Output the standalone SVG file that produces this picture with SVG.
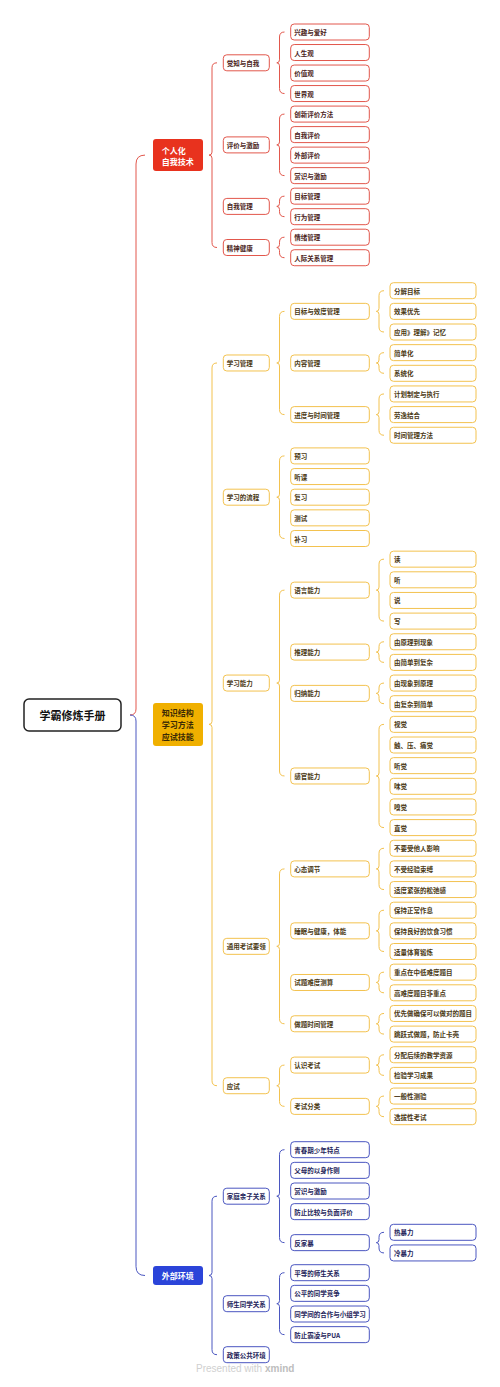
<svg xmlns="http://www.w3.org/2000/svg" width="500" height="1387" viewBox="0 0 500 1387">
<style>
text{font-family:"Noto Sans CJK SC","Noto Sans",sans-serif;}
.t{font-size:6.5px;font-weight:bold;dominant-baseline:central;}
.h{font-size:8px;font-weight:bold;fill:#fff;dominant-baseline:central;}
.rn{fill:#fff;stroke:#E2574C;stroke-width:1;}
.yn{fill:#fff;stroke:#F3C24F;stroke-width:1;}
.bn{fill:#fff;stroke:#4A56C0;stroke-width:1;}
.rt{fill:#4a2320;}
.yt{fill:#4a3812;}
.bt{fill:#1e245a;}
.rc{fill:none;stroke:#E2574C;stroke-width:1;}
.yc{fill:none;stroke:#F3C24F;stroke-width:1;}
.bc{fill:none;stroke:#4A56C0;stroke-width:1;}
</style>
<rect width="500" height="1387" fill="#fff"/>
<g id="connectors">
<path class="rc" stroke-width="1.4" d="M145,155.1 Q136,155.1 136,164 V709 Q136,715 130,715"/>
<path class="bc" stroke-width="1.4" d="M130,715 Q136,715 136,721 V1266.5 Q136,1275.5 145,1275.5"/>
<!-- red -->
<path class="rc" d="M217,62.8 Q212,62.8 212,67.8 V152.1 Q212,155.1 209,155.1 Q212,155.1 212,158.1 V242.5 Q212,247.5 217,247.5"/>
<path class="rc" d="M284.5,32 Q279.5,32 279.5,37 V59.8 Q279.5,62.8 276.8,62.8 Q279.5,62.8 279.5,65.8 V88.56 Q279.5,93.56 284.5,93.56"/>
<path class="rc" d="M284.5,114.08 Q279.5,114.08 279.5,119.08 V141.9 Q279.5,144.9 276.8,144.9 Q279.5,144.9 279.5,147.9 V170.64 Q279.5,175.64 284.5,175.64"/>
<path class="rc" d="M284.5,196.16 Q279.5,196.16 279.5,201.16 V203.4 Q279.5,206.4 276.8,206.4 Q279.5,206.4 279.5,209.4 V211.68 Q279.5,216.68 284.5,216.68"/>
<path class="rc" d="M284.5,237.2 Q279.5,237.2 279.5,242.2 V244.5 Q279.5,247.5 276.8,247.5 Q279.5,247.5 279.5,250.5 V252.72 Q279.5,257.72 284.5,257.72"/>
<!-- yellow -->
<path class="yc" d="M217,362.98 Q212,362.98 212,367.98 V721.36 Q212,724.36 209,724.36 Q212,724.36 212,727.36 V1080.73 Q212,1085.73 217,1085.73"/>
<path class="yc" d="M284.5,311.35 Q279.5,311.35 279.5,316.35 V359.98 Q279.5,362.98 276.8,362.98 Q279.5,362.98 279.5,365.98 V409.6 Q279.5,414.6 284.5,414.6"/>
<path class="yc" d="M284.5,455.9 Q279.5,455.9 279.5,460.9 V494.2 Q279.5,497.2 276.8,497.2 Q279.5,497.2 279.5,500.2 V533.5 Q279.5,538.5 284.5,538.5"/>
<path class="yc" d="M284.5,590.13 Q279.5,590.13 279.5,595.13 V680.05 Q279.5,683.05 276.8,683.05 Q279.5,683.05 279.5,686.05 V770.98 Q279.5,775.98 284.5,775.98"/>
<path class="yc" d="M284.5,868.9 Q279.5,868.9 279.5,873.9 V943.34 Q279.5,946.34 276.8,946.34 Q279.5,946.34 279.5,949.34 V1018.78 Q279.5,1023.78 284.5,1023.78"/>
<path class="yc" d="M284.5,1065.08 Q279.5,1065.08 279.5,1070.08 V1082.73 Q279.5,1085.73 276.8,1085.73 Q279.5,1085.73 279.5,1088.73 V1101.38 Q279.5,1106.38 284.5,1106.38"/>
<path class="yc" d="M384,290.7 Q379,290.7 379,295.7 V308.35 Q379,311.35 376.3,311.35 Q379,311.35 379,314.35 V327 Q379,332 384,332"/>
<path class="yc" d="M384,352.65 Q379,352.65 379,357.65 V359.98 Q379,362.98 376.3,362.98 Q379,362.98 379,365.98 V368.3 Q379,373.3 384,373.3"/>
<path class="yc" d="M384,393.95 Q379,393.95 379,398.95 V411.6 Q379,414.6 376.3,414.6 Q379,414.6 379,417.6 V430.25 Q379,435.25 384,435.25"/>
<path class="yc" d="M384,559.15 Q379,559.15 379,564.15 V587.13 Q379,590.13 376.3,590.13 Q379,590.13 379,593.13 V616.1 Q379,621.1 384,621.1"/>
<path class="yc" d="M384,641.75 Q379,641.75 379,646.75 V649.08 Q379,652.08 376.3,652.08 Q379,652.08 379,655.08 V657.4 Q379,662.4 384,662.4"/>
<path class="yc" d="M384,683.05 Q379,683.05 379,688.05 V690.38 Q379,693.38 376.3,693.38 Q379,693.38 379,696.38 V698.7 Q379,703.7 384,703.7"/>
<path class="yc" d="M384,724.35 Q379,724.35 379,729.35 V772.98 Q379,775.98 376.3,775.98 Q379,775.98 379,778.98 V822.6 Q379,827.6 384,827.6"/>
<path class="yc" d="M384,848.25 Q379,848.25 379,853.25 V865.9 Q379,868.9 376.3,868.9 Q379,868.9 379,871.9 V884.55 Q379,889.55 384,889.55"/>
<path class="yc" d="M384,910.2 Q379,910.2 379,915.2 V927.85 Q379,930.85 376.3,930.85 Q379,930.85 379,933.85 V946.5 Q379,951.5 384,951.5"/>
<path class="yc" d="M384,972.15 Q379,972.15 379,977.15 V979.48 Q379,982.48 376.3,982.48 Q379,982.48 379,985.48 V987.8 Q379,992.8 384,992.8"/>
<path class="yc" d="M384,1013.45 Q379,1013.45 379,1018.45 V1020.78 Q379,1023.78 376.3,1023.78 Q379,1023.78 379,1026.78 V1029.1 Q379,1034.1 384,1034.1"/>
<path class="yc" d="M384,1054.75 Q379,1054.75 379,1059.75 V1062.08 Q379,1065.08 376.3,1065.08 Q379,1065.08 379,1068.08 V1070.4 Q379,1075.4 384,1075.4"/>
<path class="yc" d="M384,1096.05 Q379,1096.05 379,1101.05 V1103.38 Q379,1106.38 376.3,1106.38 Q379,1106.38 379,1109.38 V1111.7 Q379,1116.7 384,1116.7"/>
<!-- blue -->
<path class="bc" d="M217,1196.2 Q212,1196.2 212,1201.2 V1272.5 Q212,1275.5 209,1275.5 Q212,1275.5 212,1278.5 V1349.7 Q212,1354.7 217,1354.7"/>
<path class="bc" d="M284.5,1149.7 Q279.5,1149.7 279.5,1154.7 V1193.2 Q279.5,1196.2 276.8,1196.2 Q279.5,1196.2 279.5,1199.2 V1237.65 Q279.5,1242.65 284.5,1242.65"/>
<path class="bc" d="M384,1232.3 Q379,1232.3 379,1237.3 V1239.65 Q379,1242.65 376.3,1242.65 Q379,1242.65 379,1245.65 V1247.95 Q379,1252.95 384,1252.95"/>
<path class="bc" d="M284.5,1272.7 Q279.5,1272.7 279.5,1277.7 V1300.7 Q279.5,1303.7 276.8,1303.7 Q279.5,1303.7 279.5,1306.7 V1329.65 Q279.5,1334.65 284.5,1334.65"/>
</g>
<g id="root"><rect x="24" y="699" width="97" height="32" rx="5" fill="#fff" stroke="#222" stroke-width="1.5"/><text x="72.5" y="715" font-size="11" font-weight="bold" fill="#111" text-anchor="middle" dominant-baseline="central">学霸修炼手册</text></g>
<g id="l1-red"><rect x="153" y="139" width="50" height="32" rx="3" fill="#E8321E"/><text class="h" x="161.7" y="150">个人化</text><text class="h" x="161.7" y="161">自我技术</text></g>
<g id="l1-yellow"><rect x="153" y="702.9" width="50" height="43" rx="3" fill="#F0B000"/><text class="h" x="161.7" y="712.8" style="fill:#3a2a05">知识结构</text><text class="h" x="161.7" y="724.4" style="fill:#3a2a05">学习方法</text><text class="h" x="161.7" y="736" style="fill:#3a2a05">应试技能</text></g>
<g id="l1-blue"><rect x="153" y="1266" width="50" height="19" rx="3" fill="#2B44D9"/><text class="h" x="161.7" y="1275.5">外部环境</text></g>

<g id="r-jz"><rect class="rn" x="223.3" y="54.8" width="46" height="16" rx="3.5"/><text class="t rt" x="226.8" y="62.8">觉知与自我</text></g>
<g id="r-pj"><rect class="rn" x="223.3" y="136.9" width="46" height="16" rx="3.5"/><text class="t rt" x="226.8" y="144.9">评价与激励</text></g>
<g id="r-zw"><rect class="rn" x="223.3" y="198.4" width="46" height="16" rx="3.5"/><text class="t rt" x="226.8" y="206.4">自我管理</text></g>
<g id="r-js"><rect class="rn" x="223.3" y="239.5" width="46" height="16" rx="3.5"/><text class="t rt" x="226.8" y="247.5">精神健康</text></g>

<g id="r1"><rect class="rn" x="290.7" y="24" width="78.6" height="16" rx="3.5"/><text class="t rt" x="294.3" y="32">兴趣与爱好</text></g>
<g id="r2"><rect class="rn" x="290.7" y="44.52" width="78.6" height="16" rx="3.5"/><text class="t rt" x="294.3" y="52.52">人生观</text></g>
<g id="r3"><rect class="rn" x="290.7" y="65.04" width="78.6" height="16" rx="3.5"/><text class="t rt" x="294.3" y="73.04">价值观</text></g>
<g id="r4"><rect class="rn" x="290.7" y="85.56" width="78.6" height="16" rx="3.5"/><text class="t rt" x="294.3" y="93.56">世界观</text></g>
<g id="r5"><rect class="rn" x="290.7" y="106.08" width="78.6" height="16" rx="3.5"/><text class="t rt" x="294.3" y="114.08">创新评价方法</text></g>
<g id="r6"><rect class="rn" x="290.7" y="126.6" width="78.6" height="16" rx="3.5"/><text class="t rt" x="294.3" y="134.6">自我评价</text></g>
<g id="r7"><rect class="rn" x="290.7" y="147.12" width="78.6" height="16" rx="3.5"/><text class="t rt" x="294.3" y="155.12">外部评价</text></g>
<g id="r8"><rect class="rn" x="290.7" y="167.64" width="78.6" height="16" rx="3.5"/><text class="t rt" x="294.3" y="175.64">赏识与激励</text></g>
<g id="r9"><rect class="rn" x="290.7" y="188.16" width="78.6" height="16" rx="3.5"/><text class="t rt" x="294.3" y="196.16">目标管理</text></g>
<g id="r10"><rect class="rn" x="290.7" y="208.68" width="78.6" height="16" rx="3.5"/><text class="t rt" x="294.3" y="216.68">行为管理</text></g>
<g id="r11"><rect class="rn" x="290.7" y="229.2" width="78.6" height="16" rx="3.5"/><text class="t rt" x="294.3" y="237.2">情绪管理</text></g>
<g id="r12"><rect class="rn" x="290.7" y="249.72" width="78.6" height="16" rx="3.5"/><text class="t rt" x="294.3" y="257.72">人际关系管理</text></g>

<g id="y-xxgl"><rect class="yn" x="223.3" y="354.98" width="46" height="16" rx="3.5"/><text class="t yt" x="226.8" y="362.98">学习管理</text></g>
<g id="y-lc"><rect class="yn" x="223.3" y="489.2" width="46" height="16" rx="3.5"/><text class="t yt" x="226.8" y="497.2">学习的流程</text></g>
<g id="y-nl"><rect class="yn" x="223.3" y="675.05" width="46" height="16" rx="3.5"/><text class="t yt" x="226.8" y="683.05">学习能力</text></g>
<g id="y-ty"><rect class="yn" x="223.3" y="938.34" width="46" height="16" rx="3.5"/><text class="t yt" x="226.8" y="946.34">通用考试要领</text></g>
<g id="y-ys"><rect class="yn" x="223.3" y="1077.73" width="46" height="16" rx="3.5"/><text class="t yt" x="226.8" y="1085.73">应试</text></g>

<g id="y3-1"><rect class="yn" x="290.7" y="303.35" width="78.6" height="16" rx="3.5"/><text class="t yt" x="294.3" y="311.35">目标与效度管理</text></g>
<g id="y3-2"><rect class="yn" x="290.7" y="354.98" width="78.6" height="16" rx="3.5"/><text class="t yt" x="294.3" y="362.98">内容管理</text></g>
<g id="y3-3"><rect class="yn" x="290.7" y="406.6" width="78.6" height="16" rx="3.5"/><text class="t yt" x="294.3" y="414.6">进度与时间管理</text></g>
<g id="y3-4"><rect class="yn" x="290.7" y="447.9" width="78.6" height="16" rx="3.5"/><text class="t yt" x="294.3" y="455.9">预习</text></g>
<g id="y3-5"><rect class="yn" x="290.7" y="468.55" width="78.6" height="16" rx="3.5"/><text class="t yt" x="294.3" y="476.55">听课</text></g>
<g id="y3-6"><rect class="yn" x="290.7" y="489.2" width="78.6" height="16" rx="3.5"/><text class="t yt" x="294.3" y="497.2">复习</text></g>
<g id="y3-7"><rect class="yn" x="290.7" y="509.85" width="78.6" height="16" rx="3.5"/><text class="t yt" x="294.3" y="517.85">测试</text></g>
<g id="y3-8"><rect class="yn" x="290.7" y="530.5" width="78.6" height="16" rx="3.5"/><text class="t yt" x="294.3" y="538.5">补习</text></g>
<g id="y3-9"><rect class="yn" x="290.7" y="582.13" width="78.6" height="16" rx="3.5"/><text class="t yt" x="294.3" y="590.13">语言能力</text></g>
<g id="y3-10"><rect class="yn" x="290.7" y="644.08" width="78.6" height="16" rx="3.5"/><text class="t yt" x="294.3" y="652.08">推理能力</text></g>
<g id="y3-11"><rect class="yn" x="290.7" y="685.38" width="78.6" height="16" rx="3.5"/><text class="t yt" x="294.3" y="693.38">归纳能力</text></g>
<g id="y3-12"><rect class="yn" x="290.7" y="767.98" width="78.6" height="16" rx="3.5"/><text class="t yt" x="294.3" y="775.98">感官能力</text></g>
<g id="y3-13"><rect class="yn" x="290.7" y="860.9" width="78.6" height="16" rx="3.5"/><text class="t yt" x="294.3" y="868.9">心态调节</text></g>
<g id="y3-14"><rect class="yn" x="290.7" y="922.85" width="78.6" height="16" rx="3.5"/><text class="t yt" x="294.3" y="930.85">睡眠与健康，体能</text></g>
<g id="y3-15"><rect class="yn" x="290.7" y="974.48" width="78.6" height="16" rx="3.5"/><text class="t yt" x="294.3" y="982.48">试题难度测算</text></g>
<g id="y3-16"><rect class="yn" x="290.7" y="1015.78" width="78.6" height="16" rx="3.5"/><text class="t yt" x="294.3" y="1023.78">做题时间管理</text></g>
<g id="y3-17"><rect class="yn" x="290.7" y="1057.08" width="78.6" height="16" rx="3.5"/><text class="t yt" x="294.3" y="1065.08">认识考试</text></g>
<g id="y3-18"><rect class="yn" x="290.7" y="1098.38" width="78.6" height="16" rx="3.5"/><text class="t yt" x="294.3" y="1106.38">考试分类</text></g>

<g id="y4-0"><rect class="yn" x="390" y="282.7" width="86" height="16" rx="3.5"/><text class="t yt" x="394" y="290.7">分解目标</text></g>
<g id="y4-1"><rect class="yn" x="390" y="303.35" width="86" height="16" rx="3.5"/><text class="t yt" x="394" y="311.35">效果优先</text></g>
<g id="y4-2"><rect class="yn" x="390" y="324" width="86" height="16" rx="3.5"/><text class="t yt" x="394" y="332">应用》理解》记忆</text></g>
<g id="y4-3"><rect class="yn" x="390" y="344.65" width="86" height="16" rx="3.5"/><text class="t yt" x="394" y="352.65">简单化</text></g>
<g id="y4-4"><rect class="yn" x="390" y="365.3" width="86" height="16" rx="3.5"/><text class="t yt" x="394" y="373.3">系统化</text></g>
<g id="y4-5"><rect class="yn" x="390" y="385.95" width="86" height="16" rx="3.5"/><text class="t yt" x="394" y="393.95">计划制定与执行</text></g>
<g id="y4-6"><rect class="yn" x="390" y="406.6" width="86" height="16" rx="3.5"/><text class="t yt" x="394" y="414.6">劳逸结合</text></g>
<g id="y4-7"><rect class="yn" x="390" y="427.25" width="86" height="16" rx="3.5"/><text class="t yt" x="394" y="435.25">时间管理方法</text></g>
<g id="y4-13"><rect class="yn" x="390" y="551.15" width="86" height="16" rx="3.5"/><text class="t yt" x="394" y="559.15">读</text></g>
<g id="y4-14"><rect class="yn" x="390" y="571.8" width="86" height="16" rx="3.5"/><text class="t yt" x="394" y="579.8">听</text></g>
<g id="y4-15"><rect class="yn" x="390" y="592.45" width="86" height="16" rx="3.5"/><text class="t yt" x="394" y="600.45">说</text></g>
<g id="y4-16"><rect class="yn" x="390" y="613.1" width="86" height="16" rx="3.5"/><text class="t yt" x="394" y="621.1">写</text></g>
<g id="y4-17"><rect class="yn" x="390" y="633.75" width="86" height="16" rx="3.5"/><text class="t yt" x="394" y="641.75">由原理到现象</text></g>
<g id="y4-18"><rect class="yn" x="390" y="654.4" width="86" height="16" rx="3.5"/><text class="t yt" x="394" y="662.4">由简单到复杂</text></g>
<g id="y4-19"><rect class="yn" x="390" y="675.05" width="86" height="16" rx="3.5"/><text class="t yt" x="394" y="683.05">由现象到原理</text></g>
<g id="y4-20"><rect class="yn" x="390" y="695.7" width="86" height="16" rx="3.5"/><text class="t yt" x="394" y="703.7">由复杂到简单</text></g>
<g id="y4-21"><rect class="yn" x="390" y="716.35" width="86" height="16" rx="3.5"/><text class="t yt" x="394" y="724.35">视觉</text></g>
<g id="y4-22"><rect class="yn" x="390" y="737" width="86" height="16" rx="3.5"/><text class="t yt" x="394" y="745">触、压、痛觉</text></g>
<g id="y4-23"><rect class="yn" x="390" y="757.65" width="86" height="16" rx="3.5"/><text class="t yt" x="394" y="765.65">听觉</text></g>
<g id="y4-24"><rect class="yn" x="390" y="778.3" width="86" height="16" rx="3.5"/><text class="t yt" x="394" y="786.3">味觉</text></g>
<g id="y4-25"><rect class="yn" x="390" y="798.95" width="86" height="16" rx="3.5"/><text class="t yt" x="394" y="806.95">嗅觉</text></g>
<g id="y4-26"><rect class="yn" x="390" y="819.6" width="86" height="16" rx="3.5"/><text class="t yt" x="394" y="827.6">直觉</text></g>
<g id="y4-27"><rect class="yn" x="390" y="840.25" width="86" height="16" rx="3.5"/><text class="t yt" x="394" y="848.25">不要受他人影响</text></g>
<g id="y4-28"><rect class="yn" x="390" y="860.9" width="86" height="16" rx="3.5"/><text class="t yt" x="394" y="868.9">不受经验束缚</text></g>
<g id="y4-29"><rect class="yn" x="390" y="881.55" width="86" height="16" rx="3.5"/><text class="t yt" x="394" y="889.55">适度紧张的松弛感</text></g>
<g id="y4-30"><rect class="yn" x="390" y="902.2" width="86" height="16" rx="3.5"/><text class="t yt" x="394" y="910.2">保持正常作息</text></g>
<g id="y4-31"><rect class="yn" x="390" y="922.85" width="86" height="16" rx="3.5"/><text class="t yt" x="394" y="930.85">保持良好的饮食习惯</text></g>
<g id="y4-32"><rect class="yn" x="390" y="943.5" width="86" height="16" rx="3.5"/><text class="t yt" x="394" y="951.5">适量体育锻炼</text></g>
<g id="y4-33"><rect class="yn" x="390" y="964.15" width="86" height="16" rx="3.5"/><text class="t yt" x="394" y="972.15">重点在中低难度题目</text></g>
<g id="y4-34"><rect class="yn" x="390" y="984.8" width="86" height="16" rx="3.5"/><text class="t yt" x="394" y="992.8">高难度题目非重点</text></g>
<g id="y4-35"><rect class="yn" x="390" y="1005.45" width="86" height="16" rx="3.5"/><text class="t yt" x="394" y="1013.45">优先做确保可以做对的题目</text></g>
<g id="y4-36"><rect class="yn" x="390" y="1026.1" width="86" height="16" rx="3.5"/><text class="t yt" x="394" y="1034.1">跳跃式做题，防止卡壳</text></g>
<g id="y4-37"><rect class="yn" x="390" y="1046.75" width="86" height="16" rx="3.5"/><text class="t yt" x="394" y="1054.75">分配后续的教学资源</text></g>
<g id="y4-38"><rect class="yn" x="390" y="1067.4" width="86" height="16" rx="3.5"/><text class="t yt" x="394" y="1075.4">检验学习成果</text></g>
<g id="y4-39"><rect class="yn" x="390" y="1088.05" width="86" height="16" rx="3.5"/><text class="t yt" x="394" y="1096.05">一般性测验</text></g>
<g id="y4-40"><rect class="yn" x="390" y="1108.7" width="86" height="16" rx="3.5"/><text class="t yt" x="394" y="1116.7">选拔性考试</text></g>

<g id="b-jt"><rect class="bn" x="223.3" y="1188.2" width="46" height="16" rx="3.5"/><text class="t bt" x="226.8" y="1196.2">家庭亲子关系</text></g>
<g id="b-ss"><rect class="bn" x="223.3" y="1295.7" width="46" height="16" rx="3.5"/><text class="t bt" x="226.8" y="1303.7">师生同学关系</text></g>
<g id="b-zc"><rect class="bn" x="223.3" y="1346.7" width="46" height="16" rx="3.5"/><text class="t bt" x="226.8" y="1354.7">政策公共环境</text></g>

<g id="b3-1"><rect class="bn" x="290.7" y="1141.7" width="78.6" height="16" rx="3.5"/><text class="t bt" x="294.3" y="1149.7">青春期少年特点</text></g>
<g id="b3-2"><rect class="bn" x="290.7" y="1162.35" width="78.6" height="16" rx="3.5"/><text class="t bt" x="294.3" y="1170.35">父母的以身作则</text></g>
<g id="b3-3"><rect class="bn" x="290.7" y="1183" width="78.6" height="16" rx="3.5"/><text class="t bt" x="294.3" y="1191">赏识与激励</text></g>
<g id="b3-4"><rect class="bn" x="290.7" y="1203.65" width="78.6" height="16" rx="3.5"/><text class="t bt" x="294.3" y="1211.65">防止比较与负面评价</text></g>
<g id="b3-5"><rect class="bn" x="290.7" y="1234.65" width="78.6" height="16" rx="3.5"/><text class="t bt" x="294.3" y="1242.65">反家暴</text></g>
<g id="b3-6"><rect class="bn" x="290.7" y="1264.7" width="78.6" height="16" rx="3.5"/><text class="t bt" x="294.3" y="1272.7">平等的师生关系</text></g>
<g id="b3-7"><rect class="bn" x="290.7" y="1285.35" width="78.6" height="16" rx="3.5"/><text class="t bt" x="294.3" y="1293.35">公平的同学竞争</text></g>
<g id="b3-8"><rect class="bn" x="290.7" y="1306" width="78.6" height="16" rx="3.5"/><text class="t bt" x="294.3" y="1314">同学间的合作与小组学习</text></g>
<g id="b3-9"><rect class="bn" x="290.7" y="1326.65" width="78.6" height="16" rx="3.5"/><text class="t bt" x="294.3" y="1334.65">防止霸凌与PUA</text></g>
<g id="b4-1"><rect class="bn" x="390" y="1224.3" width="86" height="16" rx="3.5"/><text class="t bt" x="394" y="1232.3">热暴力</text></g>
<g id="b4-2"><rect class="bn" x="390" y="1244.95" width="86" height="16" rx="3.5"/><text class="t bt" x="394" y="1252.95">冷暴力</text></g>

<text x="196" y="1372" font-size="10" fill="#d0d0d0" style="font-family:'Liberation Sans',sans-serif">Presented with <tspan font-weight="bold" fill="#bdbdbd">xmind</tspan></text>
</svg>
